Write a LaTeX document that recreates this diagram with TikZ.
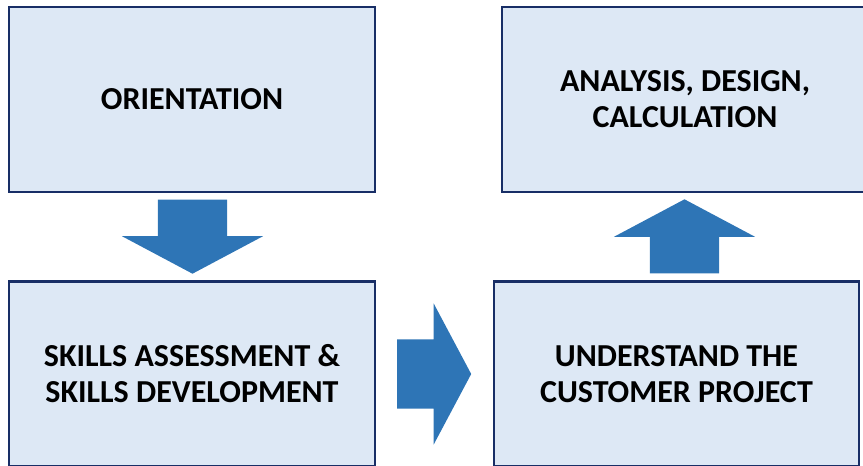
\documentclass[tikz,border=0pt]{standalone}
\usepackage{fontspec}
\setmainfont{Carlito}
\usetikzlibrary{shapes.arrows}
\definecolor{boxfill}{RGB}{221,232,245}
\definecolor{boxline}{RGB}{24,46,102}
\definecolor{arrowblue}{RGB}{46,117,182}

\begin{document}
\begin{tikzpicture}[x=1pt,y=-1pt,
    box/.style={draw=boxline, line width=2.5pt, fill=boxfill, minimum width=366pt,
        minimum height=185pt, align=center, font=\bfseries\fontsize{32}{36}\selectfont},
    blockarrow/.style={single arrow, fill=arrowblue, inner xsep=0pt, inner ysep=34.5pt,
        minimum height=74pt, single arrow head extend=36pt, single arrow tip angle=124,
        anchor=tail}]

\useasboundingbox (0,0) rectangle (863,466);

% Draw the four stages
\node[box] (orient) at (192,99.5) {ORIENTATION};
\node[box] (skills) at (192,374) {SKILLS ASSESSMENT \&\\SKILLS DEVELOPMENT};
\node[box, minimum width=365pt] (customer) at (676.5,374) {UNDERSTAND THE\\CUSTOMER PROJECT};
\node[box] (analysis) at (685,99.5) {ANALYSIS, DESIGN,\\CALCULATION};

% Block arrows between the stages
\node[blockarrow, rotate=-90] (down) at (192.5,199.5) {};
\node[blockarrow] (right) at (397,374) {};
\node[blockarrow, rotate=90] (up) at (684.5,273.5) {};

\end{tikzpicture}
\end{document}
